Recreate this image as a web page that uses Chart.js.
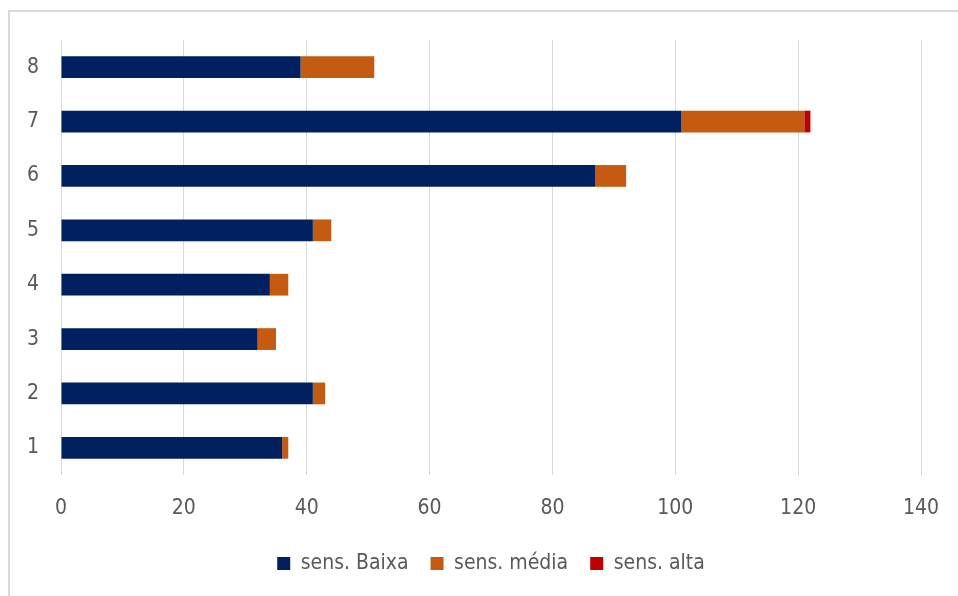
<!DOCTYPE html>
<html>
<head>
<meta charset="utf-8">
<script src="https://cdn.jsdelivr.net/npm/chart.js@4"></script>
<style>
  body { margin: 0; background: #fff; }
  #wrap { position: relative; width: 958px; height: 596px; overflow: hidden; }
  #frame { position: absolute; left: 8px; top: 10px; width: 960px; height: 600px;
           border-left: 2px solid #d9d9d9; border-top: 2px solid #d9d9d9; }
  canvas { position: absolute; left: 0; top: 0; }
</style>
</head>
<body>
<div id="wrap">
  <div id="frame"></div>
  <canvas id="chart" width="958" height="596"></canvas>
</div>
<script>
const categories = ['1', '2', '3', '4', '5', '6', '7', '8'];
const sensBaixa = [36, 41, 32, 34, 41, 87, 101, 39];
const sensMedia = [1, 2, 3, 3, 3, 5, 20, 12];
const sensAlta = [0, 0, 0, 0, 0, 0, 1, 0];
const xTicks = [0, 20, 40, 60, 80, 100, 120, 140];

const fontFamily = '"Liberation Sans Narrow", "DejaVu Sans Condensed", sans-serif';
const textColor = '#595959';

const config = {
    type: 'bar',
    data: {
        labels: categories,
        datasets: [
            { label: 'sens. Baixa', data: sensBaixa, backgroundColor: '#002060' },
            { label: 'sens. média', data: sensMedia, backgroundColor: '#c55a11' },
            { label: 'sens. alta', data: sensAlta, backgroundColor: '#c00000' }
        ]
    },
    options: {
        indexAxis: 'y',
        responsive: false,
        animation: false,
        layout: { padding: { top: 40, right: 37, left: 0, bottom: 12 } },
        datasets: { bar: { barPercentage: 0.4, categoryPercentage: 1 } },
        scales: {
            x: {
                stacked: true,
                min: 0,
                max: 140,
                afterBuildTicks: (scale) => { scale.ticks = xTicks.map(v => ({ value: v })); },
                afterFit: (scale) => {
                    scale.height = 56;
                    scale.paddingLeft = 0;
                    scale.paddingRight = 0;
                },
                grid: { color: '#d9d9d9', drawTicks: false },
                border: { display: false },
                ticks: { color: textColor, padding: 21, font: { family: fontFamily, size: 21 } }
            },
            y: {
                stacked: true,
                reverse: true,
                afterFit: (scale) => { scale.width = 61; },
                grid: { display: false, drawTicks: false },
                border: { display: false },
                ticks: { color: textColor, padding: 22, font: { family: fontFamily, size: 21 } }
            }
        },
        plugins: {
            tooltip: { enabled: false },
            legend: {
                position: 'bottom',
                fullSize: false,
                labels: {
                    color: textColor,
                    boxWidth: 13,
                    boxHeight: 13,
                    padding: 22,
                    font: { family: fontFamily, size: 21 }
                }
            }
        }
    }
};

const myChart = new Chart(document.getElementById('chart'), config);
</script>
</body>
</html>
